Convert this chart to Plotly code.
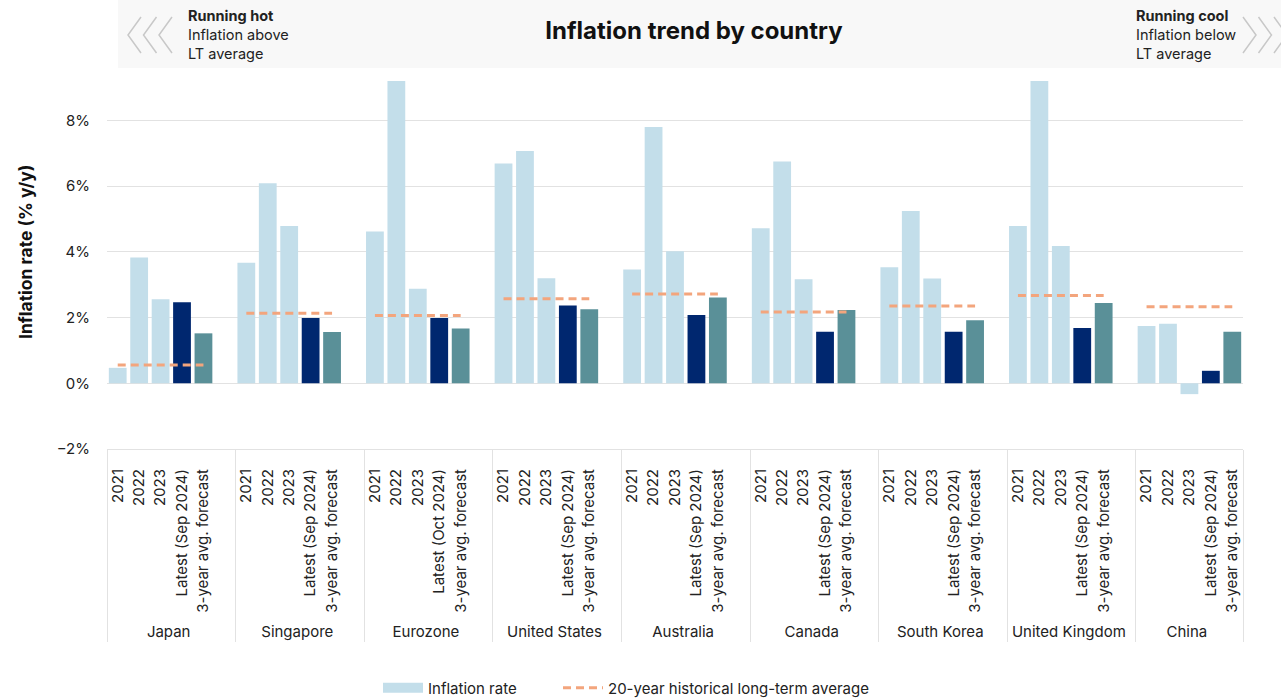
import plotly.graph_objects as go

# ---------------- data ----------------
countries = ["Japan", "Singapore", "Eurozone", "United States", "Australia",
             "Canada", "South Korea", "United Kingdom", "China"]
latest_labels = ["Latest (Sep 2024)", "Latest (Sep 2024)", "Latest (Oct 2024)",
                 "Latest (Sep 2024)", "Latest (Sep 2024)", "Latest (Sep 2024)",
                 "Latest (Sep 2024)", "Latest (Sep 2024)", "Latest (Sep 2024)"]
year_labels = ["2021", "2022", "2023"]
forecast_label = "3-year avg. forecast"

infl_2021 = [0.47, 3.67, 4.62, 6.69, 3.46, 4.72, 3.53, 4.79, 1.74]
infl_2022 = [3.83, 6.09, 9.20, 7.07, 7.80, 6.75, 5.24, 9.20, 1.81]
infl_2023 = [2.56, 4.79, 2.88, 3.20, 4.02, 3.17, 3.19, 4.18, -0.33]
infl_latest = [2.47, 1.99, 1.99, 2.37, 2.08, 1.57, 1.57, 1.68, 0.38]
forecast_3y = [1.52, 1.56, 1.67, 2.25, 2.61, 2.23, 1.92, 2.44, 1.57]
lt_average = [0.56, 2.13, 2.06, 2.57, 2.72, 2.17, 2.35, 2.67, 2.33]

# ---------------- styles ----------------
C_LIGHT = "#C3DEEA"
C_NAVY = "#00276F"
C_TEAL = "#5A9098"
C_ORANGE = "#F3A57D"
GRID = "#E2E2E2"
FONT = "Inter"
TXT = "#222222"
SPACER = " "
PAD = "\u00a0\u00a0"  # leading space so the country row sits a bit lower


def sub(label):
    return PAD + label


# build multicategory coordinates
lvl0, lvl1, yvals, cols = [], [], [], []
for i, c in enumerate(countries):
    subs = year_labels + [latest_labels[i], forecast_label]
    vals = [infl_2021[i], infl_2022[i], infl_2023[i], infl_latest[i], forecast_3y[i]]
    colors = [C_LIGHT, C_LIGHT, C_LIGHT, C_NAVY, C_TEAL]
    for s, v, col in zip(subs, vals, colors):
        lvl0.append(c); lvl1.append(sub(s)); yvals.append(v); cols.append(col)
    if i < len(countries) - 1:  # spacer slot between countries
        lvl0.append(c); lvl1.append(SPACER); yvals.append(None); cols.append(C_LIGHT)

# category order helper (plotly orders each level by first appearance)
sub_order = [sub(s) for s in year_labels + ["Latest (Sep 2024)", "Latest (Oct 2024)", forecast_label]] + [SPACER]
existing = list(zip(lvl0, lvl1))
pairs = [(c, sub_order[0]) for c in countries]
for s in sub_order[1:]:
    for p in existing:
        if p[1] == s:
            pairs.append(p)
            break

fig = go.Figure()
# invisible ordering trace (draws nothing)
fig.add_trace(go.Scatter(x=[[p[0] for p in pairs], [p[1] for p in pairs]],
                         y=[None] * len(pairs), mode="lines", showlegend=False,
                         hoverinfo="skip", line=dict(width=0)))

fig.add_trace(go.Bar(
    x=[lvl0, lvl1], y=yvals, marker=dict(color=cols, line=dict(width=0)),
    name="Inflation rate", showlegend=False, hoverinfo="skip"))

# legend entry for the bars (wide rectangle swatch)
fig.add_trace(go.Scatter(x=[[countries[0]], [sub("2021")]], y=[None], mode="lines",
                         line=dict(color=C_LIGHT, width=10), name="Inflation rate",
                         showlegend=True, hoverinfo="skip", legend="legend"))

for i, c in enumerate(countries):
    fig.add_trace(go.Scatter(
        x=[[c, c], [sub("2021"), sub(forecast_label)]], y=[lt_average[i], lt_average[i]],
        mode="lines", line=dict(color=C_ORANGE, width=3, dash="8px,5px"),
        name="20-year historical long-term average", legendgroup="lt",
        showlegend=(i == 0), hoverinfo="skip", legend="legend2"))

# ---------------- layout helpers ----------------
L, R, T, B = 107, 1243, 81, 449
W, H = 1281, 700


def px(x):
    return (x - L) / (R - L)


def py(y):
    return (B - y) / (B - T)


shapes = [dict(type="rect", xref="paper", yref="paper",
               x0=px(118), x1=px(1281), y0=py(68), y1=py(0),
               fillcolor="#F8F8F8", line=dict(width=0), layer="below")]
for ax in (128, 143.5, 159):
    shapes.append(dict(type="path", xref="paper", yref="paper",
                       path=f"M {px(ax + 13)},{py(17)} L {px(ax)},{py(35)} L {px(ax + 13)},{py(53)}",
                       line=dict(color="#C8C8C8", width=1.5)))
for ax in (1256, 1271.5, 1287):
    shapes.append(dict(type="path", xref="paper", yref="paper",
                       path=f"M {px(ax - 13)},{py(17)} L {px(ax)},{py(35)} L {px(ax - 13)},{py(53)}",
                       line=dict(color="#C8C8C8", width=1.5)))

annotations = [
    dict(xref="paper", yref="paper", x=px(186), y=py(5), xanchor="left", yanchor="top",
         text="<b>Running hot</b><br>Inflation above<br>LT average", align="left",
         showarrow=False, font=dict(family=FONT, size=14.5, color=TXT)),
    dict(xref="paper", yref="paper", x=px(1134), y=py(5), xanchor="left", yanchor="top",
         text="<b>Running cool</b><br>Inflation below<br>LT average", align="left",
         showarrow=False, font=dict(family=FONT, size=14.5, color=TXT)),
    dict(xref="paper", yref="paper", x=px(25), y=py(252), xanchor="center", yanchor="middle",
         text="<b>Inflation rate (% y/y)</b>", textangle=-90,
         showarrow=False, font=dict(family=FONT, size=17.5, color="#111111")),
]

legend_common = dict(orientation="h", xanchor="left", yref="container", y=1 - 688 / H,
                     yanchor="middle", font=dict(family=FONT, size=15, color=TXT),
                     itemwidth=40, bgcolor="rgba(0,0,0,0)", borderwidth=0)

fig.update_layout(
    width=W, height=H,
    margin=dict(l=L, r=W - R, t=T, b=H - B, pad=0, autoexpand=False),
    paper_bgcolor="white", plot_bgcolor="white",
    font=dict(family=FONT, size=15, color=TXT),
    title=dict(text="<b>Inflation trend by country</b>", xref="container", yref="container",
               x=694 / W, y=1 - 31 / H, xanchor="center", yanchor="middle",
               font=dict(family=FONT, size=24, color="#111111")),
    barmode="overlay", bargap=0.17,
    showlegend=True,
    legend=dict(x=px(378), **legend_common),
    legend2=dict(x=px(558), **legend_common),
    shapes=shapes, annotations=annotations,
)

fig.update_xaxes(type="multicategory", tickangle=-90, showgrid=False,
                 showline=True, linecolor=GRID, linewidth=1,
                 showdividers=True, dividercolor=GRID, dividerwidth=1,
                 ticks="", ticklabelstandoff=13,
                 tickfont=dict(family=FONT, size=15, color=TXT))
fig.update_yaxes(range=[-2, 9.2], tick0=0, dtick=2, ticksuffix="%",
                 showgrid=True, gridcolor=GRID, gridwidth=1,
                 zeroline=True, zerolinecolor=GRID, zerolinewidth=1,
                 showline=False, ticks="", ticklabelstandoff=16,
                 tickfont=dict(family=FONT, size=15, color=TXT))

fig.write_html("out.html")
